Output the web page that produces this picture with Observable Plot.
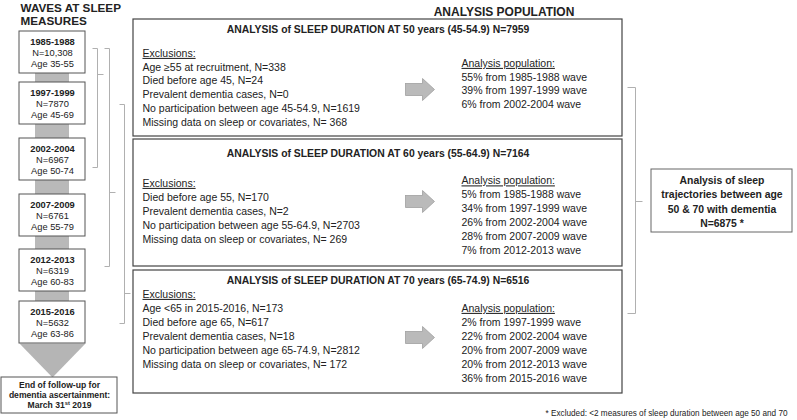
<!DOCTYPE html>
<html><head><meta charset="utf-8">
<script src="https://cdn.jsdelivr.net/npm/d3@7"></script>
<script src="https://cdn.jsdelivr.net/npm/@observablehq/plot@0.6"></script>
<style>html,body{margin:0;padding:0;background:#fff;} #chart svg{display:block;}</style>
</head><body><div id="chart"></div>
<script>
// ---------------- DATA ----------------
const leftTitle = ["WAVES AT SLEEP", "MEASURES"];
const rightTitle = "ANALYSIS POPULATION";
const waveYears = ["1985-1988", "1997-1999", "2002-2004", "2007-2009", "2012-2013", "2015-2016"];
const waveN = ["10,308", "7870", "6967", "6761", "6319", "5632"];
const waveAges = ["35-55", "45-69", "50-74", "55-79", "60-83", "63-86"];
const followUpText = ["End of follow-up for", "dementia ascertainment:", "March 31st 2019"];
const analysisAges = [50, 60, 70];
const analysisRanges = ["45-54.9", "55-64.9", "65-74.9"];
const analysisN = [7959, 7164, 6516];
const exclusions50 = ["Age \u226555 at recruitment, N=338", "Died before age 45, N=24", "Prevalent dementia cases, N=0", "No participation between age 45-54.9, N=1619", "Missing data on sleep or covariates, N= 368"];
const exclusions60 = ["Died before age 55, N=170", "Prevalent dementia cases, N=2", "No participation between age 55-64.9, N=2703", "Missing data on sleep or covariates, N= 269"];
const exclusions70 = ["Age <65 in 2015-2016, N=173", "Died before age 65, N=617", "Prevalent dementia cases, N=18", "No participation between age 65-74.9, N=2812", "Missing data on sleep or covariates, N= 172"];
const populationPct50 = [55, 39, 6];
const populationWaves50 = ["1985-1988", "1997-1999", "2002-2004"];
const populationPct60 = [5, 34, 26, 28, 7];
const populationWaves60 = ["1985-1988", "1997-1999", "2002-2004", "2007-2009", "2012-2013"];
const populationPct70 = [2, 22, 20, 20, 36];
const populationWaves70 = ["1997-1999", "2002-2004", "2007-2009", "2012-2013", "2015-2016"];
const bracketSpans = [[0, 2], [0, 4], [1, 5]];
const finalText = ["Analysis of sleep", "trajectories between age", "50 & 70 with dementia", "N=6875 *"];
const footnote = "* Excluded: <2 measures of sleep duration between age 50 and 70";

// ---------------- LAYOUT ----------------
const W = 797, H = 420;
const FONT = "'Liberation Sans', Arial, Helvetica, sans-serif";
const INK = "#222";
const L = {
  waveX1: 19, waveX2: 85, waveH: 42, waveTops: [31, 82, 138, 194, 249, 301],
  connX1: 35, connX2: 69, triTipY: 377,
  endBox: {x1: 1, x2: 117, y1: 377, y2: 413}, endLines: [385, 395, 404.5],
  boxX1: 133, boxX2: 622,
  boxes: [
    {y1: 19, y2: 136, titleY: 29, exclY: 53, popY: 63, arrowY: 89, step: 13.8},
    {y1: 139, y2: 266, titleY: 153, exclY: 183, popY: 180.5, arrowY: 201, step: 14},
    {y1: 270, y2: 393, titleY: 280, exclY: 294, popY: 308, arrowY: 337, step: 14}
  ],
  exclX: 142, popX: 461, arrowX1: 405, arrowNeck: 422, arrowX2: 434, arrowBody: 6, arrowHead: 11,
  brX: [97, 109, 124], brTop: [48, 48, 104], brBottom: [167, 266, 323], brMid: [74, 192, 293], brTick: 5, brMidTick: 6,
  rbX: 635, rbTop: 87, rbBottom: 313, rbMid: 201, rbTick: 8, rbMidTick: 7,
  finalBox: {x1: 651, x2: 792, y1: 169, y2: 232}, finalLines: [180, 194.5, 209, 223.5]
};

const exclusions = [exclusions50, exclusions60, exclusions70];
const popPct = [populationPct50, populationPct60, populationPct70];
const popWaves = [populationWaves50, populationWaves60, populationWaves70];

// boxes
const waveBoxes = waveYears.map((year, i) => ({year, n: waveN[i], age: waveAges[i], y1: L.waveTops[i], y2: L.waveTops[i] + L.waveH, x1: L.waveX1, x2: L.waveX2}));
const connectors = waveBoxes.slice(1).map((b, i) => ({x1: L.connX1, x2: L.connX2, y1: waveBoxes[i].y2, y2: b.y1}));
const lastWave = waveBoxes[waveBoxes.length - 1];
const triangle = [
  {x: L.waveX1, y: lastWave.y2}, {x: L.waveX2, y: lastWave.y2}, {x: (L.waveX1 + L.waveX2) / 2, y: L.triTipY}, {x: L.waveX1, y: lastWave.y2}
];
const analysisBoxes = analysisAges.map((age, i) => ({age, x1: L.boxX1, x2: L.boxX2, ...L.boxes[i]}));

const arrows = [];
analysisBoxes.forEach((b, i) => {
  const c = b.arrowY;
  [[L.arrowX1, c - L.arrowBody], [L.arrowNeck, c - L.arrowBody], [L.arrowNeck, c - L.arrowHead], [L.arrowX2, c],
   [L.arrowNeck, c + L.arrowHead], [L.arrowNeck, c + L.arrowBody], [L.arrowX1, c + L.arrowBody], [L.arrowX1, c - L.arrowBody]]
    .forEach(([x, y]) => arrows.push({id: i, x, y}));
});

// bracket segments
const segs = [];
bracketSpans.forEach((span, i) => {
  const x = L.brX[i], t = L.brTop[i], b = L.brBottom[i];
  segs.push({x1: x - L.brTick, y1: t, x2: x, y2: t});
  segs.push({x1: x, y1: t, x2: x, y2: b});
  segs.push({x1: x - L.brTick, y1: b, x2: x, y2: b});
  segs.push({x1: x, y1: L.brMid[i], x2: x + L.brMidTick, y2: L.brMid[i]});
});
segs.push({x1: L.rbX - L.rbTick, y1: L.rbTop, x2: L.rbX, y2: L.rbTop});
segs.push({x1: L.rbX, y1: L.rbTop, x2: L.rbX, y2: L.rbBottom});
segs.push({x1: L.rbX - L.rbTick, y1: L.rbBottom, x2: L.rbX, y2: L.rbBottom});
segs.push({x1: L.rbX, y1: L.rbMid, x2: L.rbX + L.rbMidTick, y2: L.rbMid});

// text items
const texts = [];
const T = (x, y, text, size, weight = "normal", anchor = "start") => texts.push({x, y, text, size, weight, anchor});
leftTitle.forEach((t, i) => T(20, 7.5 + i * 13, t, 11.7, "bold"));
T(503.5, 12, rightTitle, 12, "bold", "middle");
waveBoxes.forEach(b => {
  const cx = (b.x1 + b.x2) / 2;
  T(cx, b.y1 + 10.5, b.year, 9.3, "bold", "middle");
  T(cx, b.y1 + 21.5, "N=" + b.n, 9.3, "normal", "middle");
  T(cx, b.y1 + 32.5, "Age " + b.age, 9.3, "normal", "middle");
});
followUpText.forEach((t, i) => T((L.endBox.x1 + L.endBox.x2) / 2, L.endLines[i], t, 8.6, "bold", "middle"));
analysisBoxes.forEach((b, i) => {
  T((b.x1 + b.x2) / 2, b.titleY, `ANALYSIS of SLEEP DURATION AT ${b.age} years (${analysisRanges[i]}) N=${analysisN[i]}`, 10.4, "bold", "middle");
  T(L.exclX, b.exclY, "Exclusions:", 10.5);
  exclusions[i].forEach((e, j) => T(L.exclX, b.exclY + b.step * (j + 1), e, 10.5));
  T(L.popX, b.popY, "Analysis population:", 10.5);
  popPct[i].forEach((p, j) => T(L.popX, b.popY + b.step * (j + 1), `${p}% from ${popWaves[i][j]} wave`, 10.5));
});
finalText.forEach((t, i) => T((L.finalBox.x1 + L.finalBox.x2) / 2, L.finalLines[i], t, 10.4, "bold", "middle"));
T(787, 413, footnote, 8.2, "normal", "end");

const textMarks = d3.groups(texts, d => d.weight + "|" + d.anchor).map(([key, g]) => {
  const [weight, anchor] = key.split("|");
  return Plot.text(g, {x: "x", y: "y", text: "text", fontSize: "size", fontWeight: weight, textAnchor: anchor, fill: INK, lineAnchor: "middle"});
});

const chart = Plot.plot({
  width: W, height: H, margin: 0,
  x: {type: "linear", domain: [0, W], range: [0, W], axis: null},
  y: {type: "linear", domain: [0, H], range: [0, H], axis: null},
  style: {fontFamily: FONT, background: "#fff", color: INK},
  marks: [
    Plot.rect(connectors, {x1: "x1", x2: "x2", y1: "y1", y2: "y2", fill: "#b9b9b9"}),
    Plot.line(triangle, {x: "x", y: "y", fill: "#b5b5b5", stroke: "none"}),
    Plot.rect(waveBoxes, {x1: "x1", x2: "x2", y1: "y1", y2: "y2", fill: "#fff", stroke: "#555", strokeWidth: 1}),
    Plot.rect([L.endBox], {x1: "x1", x2: "x2", y1: "y1", y2: "y2", fill: "#fff", stroke: "#555", strokeWidth: 1}),
    Plot.link(segs, {x1: "x1", y1: "y1", x2: "x2", y2: "y2", stroke: "#b0b0b0", strokeWidth: 1}),
    Plot.rect(analysisBoxes, {x1: "x1", x2: "x2", y1: "y1", y2: "y2", fill: "#fff", stroke: "#444", strokeWidth: 1.2}),
    Plot.line(arrows, {x: "x", y: "y", z: "id", fill: "#bababa", stroke: "#a0a0a0", strokeWidth: 0.8}),
    Plot.rect([L.finalBox], {x1: "x1", x2: "x2", y1: "y1", y2: "y2", fill: "#fff", stroke: "#666", strokeWidth: 1}),
    ...textMarks
  ]
});

// underline headers & superscript ordinal
const underlined = new Set(["Exclusions:", "Analysis population:"]);
d3.select(chart).selectAll("text").filter(function() { return underlined.has(this.textContent); })
  .attr("text-decoration", "underline");
d3.select(chart).selectAll("text").filter(function() { return this.textContent === "March 31st 2019"; })
  .each(function() {
    const s = d3.select(this);
    s.text(null);
    s.append("tspan").text("March 31");
    s.append("tspan").attr("dy", -3).attr("font-size", 5.8).text("st");
    s.append("tspan").attr("dy", 3).text(" 2019");
  });

document.getElementById("chart").appendChild(chart);
</script>
</body></html>
